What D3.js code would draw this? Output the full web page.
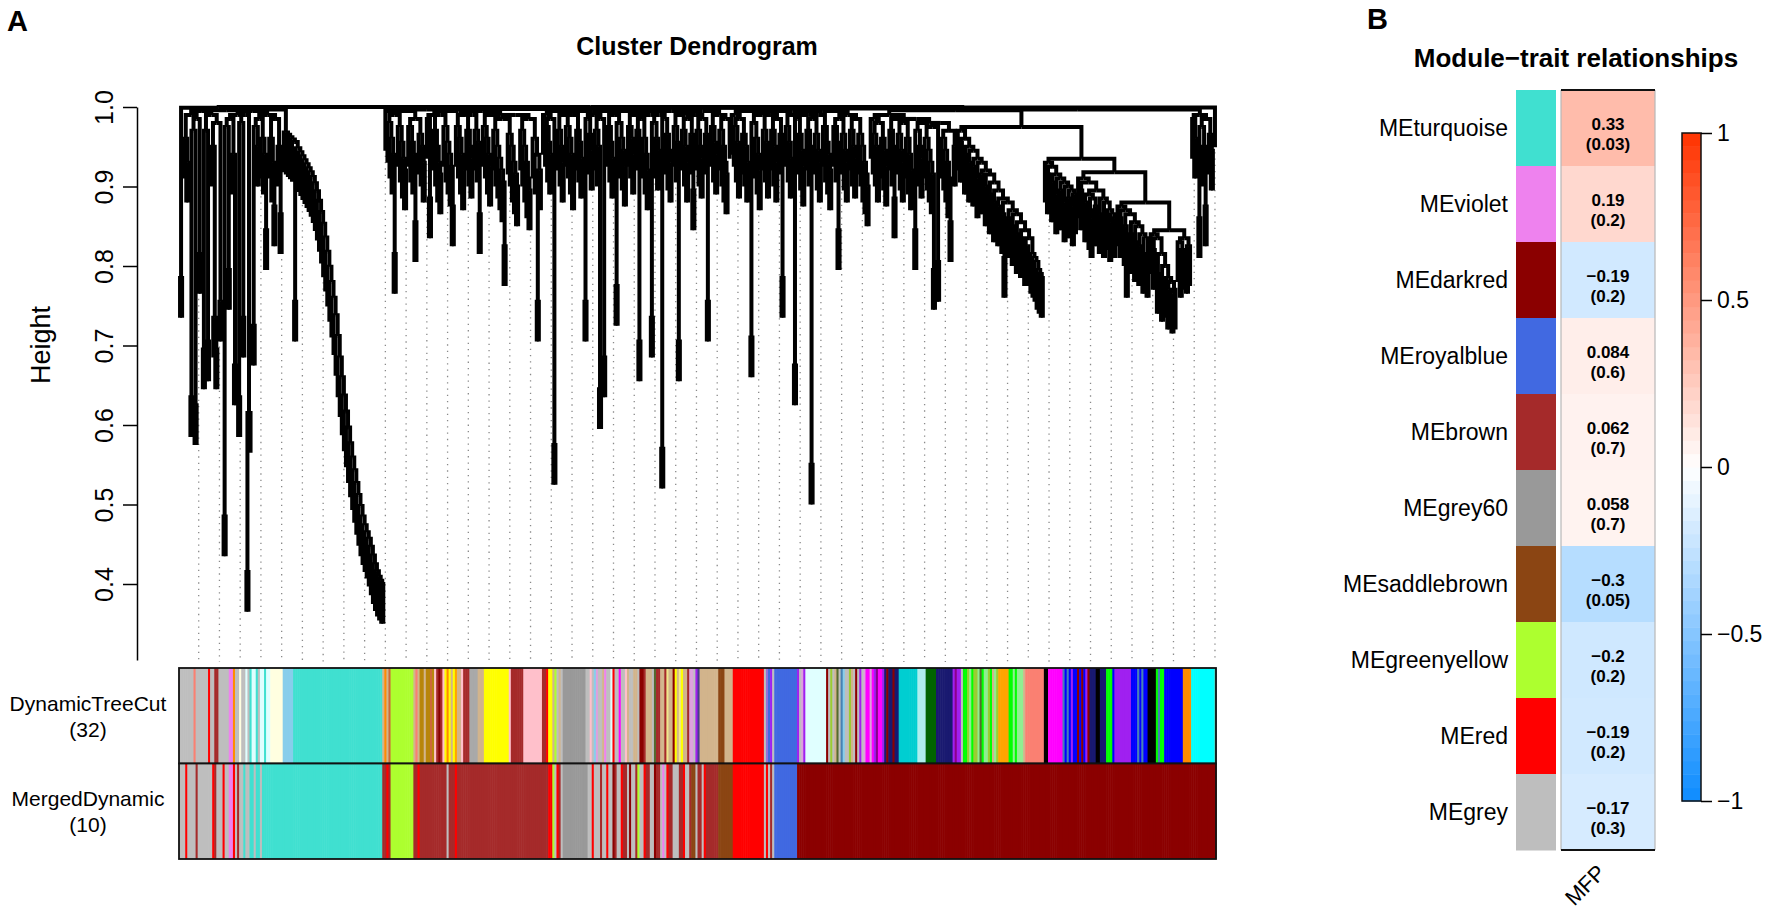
<!DOCTYPE html>
<html>
<head>
<meta charset="utf-8">
<title>Cluster Dendrogram / Module-trait relationships</title>
<script src="https://d3js.org/d3.v7.min.js"></script>
<style>
  body { margin: 0; background: #fff; }
  svg { font-family: "Liberation Sans", Arial, Helvetica, sans-serif; }
</style>
</head>
<body>
<svg width="1772" height="914"></svg>
<script>
// ---------------- data: panel A ----------------
// heights at which neighbouring leaves meet, left to right
var mergeLeft = [0.785, 0.999, 0.96, 0.93, 0.99, 0.635, 0.97, 0.625, 0.985, 0.815,
  0.995, 0.695, 0.97, 0.705, 0.99, 0.95, 0.735, 0.695, 0.98, 0.755,
  0.996, 0.485, 0.975, 0.795, 0.985, 0.94, 0.675, 0.99, 0.635, 0.98,
  0.735, 0.99, 0.415, 0.615, 0.995, 0.725, 0.975, 0.95, 0.985, 0.96,
  0.94, 0.845, 0.99, 0.96, 0.93, 0.875, 0.985, 0.95, 0.865, 0.997];
var mergeTurquoise = [0.968, 0.965, 0.962, 0.959, 0.956, 0.755, 0.948, 0.943, 0.938, 0.933,
  0.928, 0.923, 0.918, 0.912, 0.904, 0.894, 0.882, 0.868, 0.853, 0.836,
  0.818, 0.799, 0.78, 0.76, 0.738, 0.712, 0.685, 0.66, 0.637, 0.617,
  0.597, 0.577, 0.559, 0.543, 0.527, 0.512, 0.498, 0.485, 0.474, 0.465,
  0.457, 0.447, 0.436, 0.425, 0.416, 0.409, 0.404, 0.40];
var mergeA = [0.995, 0.98, 0.96, 0.94, 0.815, 0.99, 0.975, 0.955, 0.935, 0.92,
  0.995, 0.975, 0.955, 0.94, 0.855, 0.985, 0.965, 0.95, 0.93, 0.997,
  0.985, 0.885, 0.99, 0.97, 0.95, 0.93, 0.915, 0.99, 0.975, 0.955,
  0.94, 0.925, 0.875, 0.995, 0.975, 0.96, 0.94, 0.92, 0.99, 0.97,
  0.95, 0.935, 0.99, 0.97, 0.955, 0.865, 0.995, 0.975, 0.96, 0.94,
  0.925, 0.99, 0.97, 0.95, 0.935, 0.92, 0.905, 0.825, 0.985, 0.965,
  0.95, 0.93, 0.915, 0.90, 0.99, 0.97, 0.95, 0.93, 0.91, 0.895,
  0.985, 0.96, 0.94, 0.755, 0.92];
var mergeB = [0.99, 0.975, 0.955, 0.94, 0.985, 0.575, 0.995, 0.97, 0.95, 0.93,
  0.99, 0.975, 0.96, 0.94, 0.92, 0.99, 0.97, 0.955, 0.935, 0.995,
  0.755, 0.985, 0.965, 0.945, 0.99, 0.97, 0.95, 0.645, 0.985, 0.685,
  0.995, 0.975, 0.955, 0.935, 0.99, 0.775, 0.98, 0.96, 0.945, 0.925,
  0.995, 0.975, 0.96, 0.94, 0.99, 0.97, 0.705, 0.985, 0.96, 0.94,
  0.92, 0.99, 0.735, 0.98, 0.96, 0.945, 0.99, 0.57, 0.985, 0.965,
  0.945, 0.93, 0.995, 0.975, 0.955, 0.705, 0.99, 0.97, 0.95, 0.93,
  0.985, 0.965, 0.895, 0.99, 0.97, 0.95, 0.935, 0.985, 0.965, 0.755,
  0.995, 0.975, 0.955, 0.94, 0.99, 0.97, 0.95, 0.93, 0.915, 0.985];
var mergeC = [0.99, 0.975, 0.955, 0.935, 0.985, 0.965, 0.95, 0.93, 0.995, 0.71,
  0.98, 0.96, 0.94, 0.92, 0.99, 0.97, 0.955, 0.935, 0.99, 0.97,
  0.95, 0.93, 0.985, 0.965, 0.785, 0.995, 0.975, 0.955, 0.935, 0.99,
  0.675, 0.985, 0.965, 0.945, 0.925, 0.99, 0.97, 0.95, 0.55, 0.985,
  0.965, 0.945, 0.93, 0.99, 0.975, 0.955, 0.94, 0.92, 0.995, 0.975,
  0.955, 0.845, 0.985, 0.965, 0.945, 0.93, 0.99, 0.97, 0.95, 0.935,
  0.985, 0.965, 0.95, 0.93, 0.915, 0.90];
var mergeD = [0.985, 0.965, 0.95, 0.93, 0.98, 0.96, 0.945, 0.925, 0.99, 0.97,
  0.95, 0.885, 0.985, 0.965, 0.945, 0.93, 0.98, 0.96, 0.94, 0.92,
  0.985, 0.845, 0.97, 0.95, 0.935, 0.98, 0.96, 0.945, 0.93, 0.915,
  0.795, 0.975, 0.805, 0.98, 0.96, 0.945, 0.93, 0.91, 0.855, 0.97,
  0.95];
var mergeE = [0.97, 0.955, 0.96, 0.94, 0.95, 0.93, 0.945, 0.925, 0.935, 0.91,
  0.93, 0.915, 0.92, 0.90, 0.915, 0.89, 0.905, 0.88, 0.895, 0.875,
  0.885, 0.865, 0.81, 0.88, 0.86, 0.87, 0.85, 0.865, 0.84, 0.855,
  0.835, 0.845, 0.825, 0.825, 0.835, 0.815, 0.81, 0.805, 0.795, 0.79,
  0.785];
var mergeF1 = [0.93, 0.915, 0.925, 0.905, 0.915, 0.89, 0.91, 0.895, 0.905, 0.88, 0.90, 0.885, 0.895, 0.875, 0.89];
var mergeF2 = [0.91, 0.895, 0.905, 0.88, 0.89, 0.87, 0.86, 0.885, 0.875, 0.895, 0.865, 0.885, 0.86, 0.88, 0.87, 0.855, 0.865, 0.86];
var mergeF3 = [0.875, 0.86, 0.87, 0.85, 0.81, 0.865, 0.84, 0.855, 0.83, 0.85, 0.825, 0.84, 0.815, 0.835, 0.81];
var mergeF4 = [0.84, 0.82, 0.835, 0.79, 0.815, 0.78, 0.80, 0.785, 0.77, 0.78, 0.765, 0.77];
var mergeF5 = [0.83, 0.81, 0.82, 0.835, 0.815, 0.825];
var mergeG = [0.985, 0.96, 0.99, 0.86, 0.975, 0.95, 0.875, 0.985, 0.965, 0.945, 0.9995];
// heights where the blocks above meet each other
var blockJoins = [1.0, 0.9975, 0.999, 0.998, 0.996, 0.975, 0.935, 0.918, 0.88, 0.845, 0.997];

var yTicks = [0.4, 0.5, 0.6, 0.7, 0.8, 0.9, 1.0];

// colour rows under the dendrogram, as [colour, number of leaves]
var dynamicRuns = [
  ["grey", 7], ["salmon", 1], ["grey", 6], ["red", 1], ["grey", 2], ["brown", 2], ["grey", 5], ["violet", 2],
  ["darkorange", 1], ["grey", 2], ["lightyellow", 1], ["grey", 2], ["lightcyan", 1], ["grey", 1], ["turquoise", 1],
  ["lightcyan", 2], ["turquoise", 1], ["grey", 1], ["lightcyan", 2], ["turquoise", 1], ["lightcyan", 2],
  ["lightyellow", 6], ["skyblue", 5], ["turquoise", 43],
  ["tan", 1], ["darkorange", 1], ["tan", 1], ["sienna3", 1], ["greenyellow", 11],
  ["tan", 1], ["salmon", 1], ["tan", 1], ["darkgoldenrod", 2], ["tan", 1], ["darkgoldenrod", 2], ["sienna3", 1], ["darkgoldenrod", 1],
  ["pink", 1], ["brown", 1], ["darkred", 1], ["brown", 1], ["pink", 1],
  ["yellow", 1], ["darkorange", 1], ["yellow", 1], ["tan", 1], ["yellow", 1], ["orange", 1],
  ["tan", 2], ["pink", 1], ["brown", 3], ["darkgrey", 4], ["tan", 3], ["yellow", 12],
  ["pink", 1], ["brown", 6], ["pink", 9], ["brown", 2], ["red", 1], ["yellow", 2],
  ["tan", 1], ["greenyellow", 1], ["grey", 1], ["tan", 1], ["grey", 1], ["grey60", 11],
  ["grey", 2], ["pink", 1], ["grey", 1], ["skyblue", 1], ["plum", 1], ["grey", 2], ["tan", 1], ["violet", 1], ["grey", 2],
  ["lightcyan", 1], ["red", 1], ["grey", 2], ["magenta", 1], ["grey", 2], ["pink", 1], ["tan", 1], ["grey", 1],
  ["grey", 1], ["tan", 2], ["grey", 1], ["darkred", 2], ["brown", 1], ["tan", 3], ["grey", 1], ["darkolivegreen", 1],
  ["brown", 2], ["tan", 2], ["brown", 1], ["khaki", 1], ["tan", 2], ["darkred", 1], ["yellow", 1], ["tan", 1], ["khaki", 1],
  ["yellow", 1], ["tan", 2], ["brown", 1], ["plum", 2], ["grey", 1], ["purple", 1], ["darkslateblue", 1], ["tan", 9],
  ["saddlebrown", 3], ["tan", 4], ["red", 15],
  ["grey", 1], ["mediumpurple", 1], ["royalblue", 1], ["purple", 1], ["grey", 1], ["royalblue", 11],
  ["purple", 1], ["grey", 1], ["plum", 1], ["purple", 1], ["lightcyan", 10],
  ["darkred", 1], ["grey", 1], ["yellowgreen", 1], ["grey", 1], ["tan", 1], ["darkolivegreen", 1], ["grey", 1], ["steelblue", 1],
  ["skyblue", 1], ["grey", 2], ["yellowgreen", 1], ["tan", 1], ["grey", 1], ["darkred", 1], ["grey", 1], ["purple", 1], ["grey", 1], ["plum", 1],
  ["magenta", 2], ["plum", 1], ["magenta", 1], ["purple", 1], ["darkmagenta", 1], ["magenta", 2], ["purple", 1], ["midnightblue", 1], ["darkred", 1],
  ["midnightblue", 2], ["darkred", 1], ["midnightblue", 2],
  ["darkturquoise", 9], ["paleturquoise", 4], ["darkgreen", 5], ["midnightblue", 8],
  ["purple", 1], ["darkmagenta", 1], ["purple", 2], ["grey", 1],
  ["green", 2], ["yellowgreen", 1], ["lightgreen", 1], ["green", 1], ["yellowgreen", 2], ["lightgreen", 1], ["darkolivegreen", 1],
  ["green", 1], ["lightgreen", 2], ["yellowgreen", 1], ["green", 1], ["tan", 1], ["lightgreen", 1], ["yellowgreen", 1],
  ["orange", 5], ["green", 2], ["lightgreen", 1], ["green", 1], ["lightgreen", 3], ["tan", 1], ["salmon", 9],
  ["black", 2], ["magenta", 7],
  ["steelblue", 1], ["blue", 1], ["steelblue", 1], ["blue", 1], ["purple", 1], ["blue", 2], ["darkred", 1], ["blue", 1],
  ["darkred", 1], ["blue", 1], ["purple", 1], ["darkred", 1], ["midnightblue", 1],
  ["midnightblue", 2], ["black", 2], ["midnightblue", 3],
  ["green", 3], ["blue", 1], ["purple", 8], ["blue", 3],
  ["steelblue", 1], ["blue", 1], ["steelblue", 1], ["blue", 2], ["black", 4],
  ["green", 1], ["steelblue", 1], ["green", 2], ["blue", 1], ["blue", 8], ["darkorange", 4], ["cyan", 11], ["turquoise", 1]
];
var mergedRuns = [
  ["grey", 3], ["red", 1], ["grey", 4], ["brown", 1], ["grey", 7], ["red", 1], ["brown", 1], ["grey", 3], ["red", 1], ["grey", 2],
  ["violet", 2], ["red", 1], ["grey", 1], ["brown", 1], ["grey", 2], ["turquoise", 1], ["grey", 2], ["turquoise", 2], ["grey", 1],
  ["turquoise", 2], ["grey", 1], ["turquoise", 58],
  ["brown", 2], ["red", 1], ["brown", 1], ["greenyellow", 11],
  ["brown", 2], ["red", 1], ["brown", 2],
  ["brown", 11], ["grey", 1], ["brown", 3], ["red", 1], ["brown", 44],
  ["red", 2], ["greenyellow", 1], ["grey", 1], ["red", 1], ["brown", 1], ["grey", 1],
  ["grey60", 12],
  ["grey", 2], ["red", 1], ["grey", 3], ["brown", 1], ["grey", 2], ["red", 1], ["grey", 2], ["darkred", 1], ["brown", 1], ["grey", 2],
  ["red", 1], ["brown", 2], ["grey", 1], ["darkred", 1], ["grey", 2], ["brown", 1], ["greenyellow", 1], ["grey", 2], ["red", 1],
  ["brown", 2], ["grey", 2], ["darkred", 1], ["brown", 2], ["grey", 1], ["violet", 1], ["grey", 1], ["red", 1], ["brown", 2],
  ["grey", 3], ["brown", 2], ["red", 1], ["grey", 2], ["brown", 1], ["saddlebrown", 2], ["grey", 1], ["brown", 2], ["grey", 1],
  ["red", 1], ["brown", 6],
  ["saddlebrown", 7], ["red", 15],
  ["grey", 1], ["red", 1], ["grey", 1], ["brown", 1], ["grey", 1],
  ["royalblue", 11],
  ["darkred", 202]
];
var colorRows = [
  { name: "DynamicTreeCut", count: "(32)", runs: dynamicRuns },
  { name: "MergedDynamic", count: "(10)", runs: mergedRuns }
];

// ---------------- data: panel B ----------------
var modules = ["MEturquoise", "MEviolet", "MEdarkred", "MEroyalblue", "MEbrown",
  "MEgrey60", "MEsaddlebrown", "MEgreenyellow", "MEred", "MEgrey"];
var moduleColors = ["turquoise", "violet", "darkred", "royalblue", "brown",
  "grey60", "saddlebrown", "greenyellow", "red", "grey"];
var traits = ["MFP"];
var corMFP = [0.33, 0.19, -0.19, 0.084, 0.062, 0.058, -0.3, -0.2, -0.19, -0.17];
var pMFP = ["0.03", "0.2", "0.2", "0.6", "0.7", "0.7", "0.05", "0.2", "0.2", "0.3"];
var legendTicks = [-1, -0.5, 0, 0.5, 1];

// R colour names that differ from CSS
var rColor = { grey: "#BEBEBE", grey60: "#999999", darkgrey: "#A9A9A9", green: "#00FF00",
  purple: "#A020F0", sienna3: "#CD6839" };
function col(name) { return rColor[name] || name; }

var svg = d3.select("svg");

// ================= panel A =================
var heights = [];
[mergeLeft.concat(mergeTurquoise), mergeA, mergeB, mergeC, mergeD, mergeE,
  mergeF1, mergeF2, mergeF3, mergeF4, mergeF5, mergeG].forEach(function (b, i) {
  heights = heights.concat(b);
  if (i < blockJoins.length) heights.push(blockJoins[i]);
});
var nLeaves = heights.length + 1;

var x = d3.scaleBand().domain(d3.range(nLeaves)).range([179, 1216]);
var y = d3.scaleLinear().domain([0.4, 1.0]).range([584, 107]);
var hang = 0.05;
var barTop = 668, barH = 95.5, guideBottom = 662;

// tree from the neighbour heights: the highest one splits first
function buildTree(lo, hi) {
  if (lo === hi) return { leaf: lo };
  var k = lo;
  for (var i = lo + 1; i < hi; i++) if (heights[i] > heights[k]) k = i;
  return { merge: heights[k], children: [buildTree(lo, k), buildTree(k + 1, hi)] };
}
var root = d3.hierarchy(buildTree(0, nLeaves - 1));
root.eachAfter(function (d) {
  d.px = d.children ? (d.children[0].px + d.children[1].px) / 2 : x(d.data.leaf) + x.bandwidth() / 2;
});
root.each(function (d) {
  d.ph = d.children ? d.data.merge : d.parent.data.merge - hang;
});

// guide lines
var guides = root.leaves().filter(function (d) { return d.data.leaf % 10 === 9; });
svg.append("g").selectAll("line").data(guides).join("line")
  .attr("x1", function (d) { return d.px; })
  .attr("x2", function (d) { return d.px; })
  .attr("y1", function (d) { return y(d.ph) + 5; })
  .attr("y2", guideBottom)
  .attr("stroke", "#8a8a8a")
  .attr("stroke-width", 1.3)
  .attr("stroke-dasharray", "1.3,5");

// dendrogram
svg.append("g").selectAll("path").data(root.links()).join("path")
  .attr("d", function (l) {
    return "M" + l.target.px + "," + y(l.target.ph) + "V" + y(l.source.ph) + "H" + l.source.px;
  })
  .attr("fill", "none")
  .attr("stroke", "#000")
  .attr("stroke-width", 4)
  .attr("stroke-linejoin", "miter");

// y axis
var yAxisScale = y.copy().domain([y.invert(660), 1.0]).range([660, 107]);
var yAxis = svg.append("g")
  .attr("transform", "translate(137,0)")
  .call(d3.axisLeft(yAxisScale).tickValues(yTicks).tickFormat(d3.format(".1f")).tickSize(14).tickSizeOuter(0));
yAxis.select(".domain").attr("stroke-width", 1.5);
yAxis.selectAll(".tick line").attr("stroke-width", 1.5);
yAxis.selectAll(".tick text")
  .attr("transform", "rotate(-90)")
  .attr("x", 0).attr("y", -24).attr("dy", 0)
  .attr("text-anchor", "middle")
  .attr("font-size", 25)
  .attr("font-family", "Liberation Sans, Arial, sans-serif")
  .attr("fill", "#000");

svg.append("text")
  .attr("transform", "translate(50,345) rotate(-90)")
  .attr("text-anchor", "middle")
  .attr("font-size", 27)
  .text("Height");

svg.append("text")
  .attr("x", 697).attr("y", 55)
  .attr("text-anchor", "middle")
  .attr("font-size", 25).attr("font-weight", "bold")
  .text("Cluster Dendrogram");

// colour rows
colorRows.forEach(function (row, r) {
  var cells = [];
  row.runs.forEach(function (run) { for (var i = 0; i < run[1]; i++) cells.push(run[0]); });
  var top = barTop + r * barH;
  var g = svg.append("g");
  g.selectAll("rect").data(cells).join("rect")
    .attr("x", function (d, i) { return x(i); })
    .attr("y", top)
    .attr("width", x.bandwidth() + 0.6)
    .attr("height", barH)
    .attr("fill", function (d) { return col(d); });
  g.append("rect")
    .attr("x", 179).attr("y", top).attr("width", 1037).attr("height", barH)
    .attr("fill", "none").attr("stroke", "#111").attr("stroke-width", 1.8);
  var label = g.append("text")
    .attr("text-anchor", "middle")
    .attr("font-size", 21);
  label.append("tspan").attr("x", 88).attr("y", top + barH / 2 - 5).text(row.name);
  label.append("tspan").attr("x", 88).attr("y", top + barH / 2 + 21).text(row.count);
});

svg.append("text")
  .attr("x", 7).attr("y", 31)
  .attr("font-size", 29).attr("font-weight", "bold")
  .text("A");

// ================= panel B =================
var rowScale = d3.scaleBand().domain(modules).range([90, 850]);
var traitScale = d3.scaleBand().domain(traits).range([1561, 1655]);
var heat = d3.scaleLinear().domain([-1, 0, 1]).range(["#0D8CFF", "#FFFFFF", "#FF3300"]);

svg.append("text")
  .attr("x", 1367).attr("y", 29)
  .attr("font-size", 29).attr("font-weight", "bold")
  .text("B");

svg.append("text")
  .attr("x", 1576).attr("y", 67)
  .attr("text-anchor", "middle")
  .attr("font-size", 26).attr("font-weight", "bold")
  .text("Module\u2212trait relationships");

// module colour column
svg.append("g").selectAll("rect").data(modules).join("rect")
  .attr("x", 1516).attr("width", 40)
  .attr("y", function (d) { return rowScale(d); })
  .attr("height", rowScale.bandwidth() + 0.5)
  .attr("fill", function (d, i) { return col(moduleColors[i]); });

// module labels
svg.append("g").selectAll("text").data(modules).join("text")
  .attr("x", 1508)
  .attr("y", function (d) { return rowScale(d) + rowScale.bandwidth() / 2 + 8; })
  .attr("text-anchor", "end")
  .attr("font-size", 23)
  .text(function (d) { return d; });

// heatmap cells
var cellData = modules.map(function (m, i) { return { module: m, trait: traits[0], r: corMFP[i], p: pMFP[i] }; });
svg.append("g").selectAll("rect").data(cellData).join("rect")
  .attr("x", function (d) { return traitScale(d.trait); })
  .attr("width", traitScale.bandwidth())
  .attr("y", function (d) { return rowScale(d.module); })
  .attr("height", rowScale.bandwidth() + 0.5)
  .attr("fill", function (d) { return heat(d.r); });

var cellText = svg.append("g").selectAll("text").data(cellData).join("text")
  .attr("text-anchor", "middle")
  .attr("font-size", 17).attr("font-weight", "bold");
cellText.append("tspan")
  .attr("x", function (d) { return traitScale(d.trait) + traitScale.bandwidth() / 2; })
  .attr("y", function (d) { return rowScale(d.module) + rowScale.bandwidth() / 2 + 2; })
  .text(function (d) { return (d.r < 0 ? "\u2212" : "") + Math.abs(d.r); });
cellText.append("tspan")
  .attr("x", function (d) { return traitScale(d.trait) + traitScale.bandwidth() / 2; })
  .attr("y", function (d) { return rowScale(d.module) + rowScale.bandwidth() / 2 + 22; })
  .text(function (d) { return "(" + d.p + ")"; });

// heatmap frame
var hx0 = traitScale.range()[0], hx1 = traitScale.range()[1];
svg.append("line").attr("x1", hx0).attr("x2", hx0).attr("y1", 90).attr("y2", 850).attr("stroke", "#b8b8b8").attr("stroke-width", 1.2);
svg.append("line").attr("x1", hx1).attr("x2", hx1).attr("y1", 90).attr("y2", 850).attr("stroke", "#b8b8b8").attr("stroke-width", 1.2);
svg.append("line").attr("x1", hx0).attr("x2", hx1).attr("y1", 90).attr("y2", 90).attr("stroke", "#111").attr("stroke-width", 2);
svg.append("line").attr("x1", hx0).attr("x2", hx1).attr("y1", 850).attr("y2", 850).attr("stroke", "#111").attr("stroke-width", 2);

svg.append("text")
  .attr("transform", "translate(1607,874) rotate(-45)")
  .attr("text-anchor", "end")
  .attr("font-size", 22)
  .text(traits[0]);

// colour legend
var legendY = d3.scaleLinear().domain([-1, 1]).range([801, 133]);
var steps = d3.range(50).map(function (i) { return -1 + (i + 0.5) * 2 / 50; });
svg.append("g").selectAll("rect").data(steps).join("rect")
  .attr("x", 1682).attr("width", 19)
  .attr("y", function (d) { return legendY(d + 1 / 50); })
  .attr("height", legendY(-1) - legendY(-1 + 2 / 50) + 0.5)
  .attr("fill", function (d) { return heat(d); });
svg.append("rect")
  .attr("x", 1682).attr("y", 133).attr("width", 19).attr("height", 668)
  .attr("fill", "none").attr("stroke", "#111").attr("stroke-width", 1.5);
var legendAxis = svg.append("g")
  .attr("transform", "translate(1701,0)")
  .call(d3.axisRight(legendY).tickValues(legendTicks)
    .tickFormat(function (d) { return (d < 0 ? "\u2212" : "") + Math.abs(d); })
    .tickSize(11).tickPadding(5).tickSizeOuter(0));
legendAxis.select(".domain").remove();
legendAxis.selectAll(".tick line").attr("stroke-width", 1.5);
legendAxis.selectAll(".tick text")
  .attr("font-size", 23)
  .attr("font-family", "Liberation Sans, Arial, sans-serif")
  .attr("fill", "#000");
</script>
</body>
</html>
